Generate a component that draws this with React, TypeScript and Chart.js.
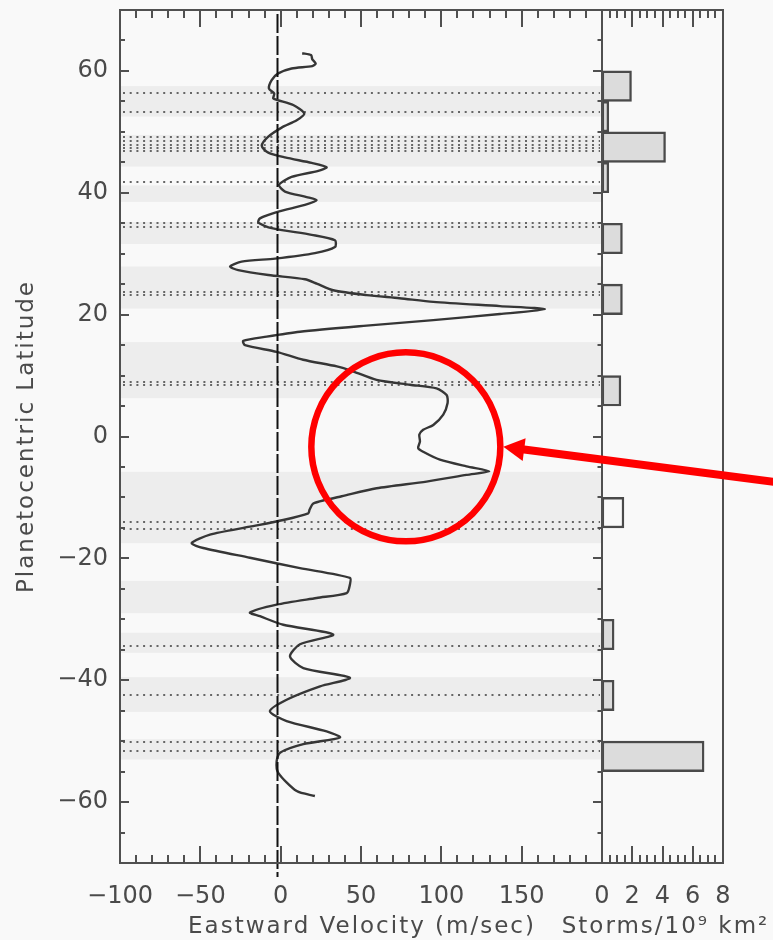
import { useEffect, useRef } from "react";
import { Chart, registerables } from "chart.js";

Chart.register(...registerables);

// Zonal wind profile: planetocentric latitude (deg) and eastward velocity (m/s)
const windLat = [
  62.9, 62.6, 61.9, 61.2, 60.8, 60.4, 59.6, 58.5, 57.1, 56.3, 55.5, 55.2, 54.4, 53.0, 51.9, 50.7,
  49.2, 47.7, 46.6, 45.8, 44.9, 44.2, 43.6, 42.6, 41.3, 40.2, 39.3, 38.8, 38.0, 36.9, 35.8, 35.1,
  34.2, 33.1, 32.2, 31.1, 30.1, 29.2, 28.7, 27.9, 27.3, 26.5, 25.8, 25.1, 24.0, 23.2, 22.7, 22.1,
  21.4, 20.9, 20.1, 19.1, 18.2, 17.2, 16.4, 15.7, 15.0, 13.9, 12.6, 11.5, 10.7, 9.3, 8.5, 7.9,
  6.8, 5.5, 3.6, 1.9, 1.1, 0.3, -0.8, -1.9, -2.5, -3.8, -4.9, -5.7, -6.3, -7.4, -8.5, -9.8,
  -10.4, -11.0, -12.0, -12.6, -13.7, -14.8, -16.1, -17.5, -18.3, -19.9, -21.6, -23.2, -24.3, -25.7, -26.5, -27.6,
  -28.9, -29.5, -30.9, -32.5, -34.1, -36.1, -38.0, -39.6, -41.0, -43.2, -45.1, -46.7, -48.4, -49.4, -50.5, -51.9,
  -53.3, -55.2, -58.2, -59.0,
];
const windSpeed = [
  13.4, 18.9, 19.7, 21.8, 19.7, 6.8, -1.5, -5.6, -7.3, -4.0, -4.6, -1.9, 7.8, 14.7, 10.0, 0.6,
  -7.7, -11.8, -7.7, 2.7, 19.3, 28.6, 23.4, 6.8, -1.0, 2.7, 16.2, 22.4, 15.1, -1.5, -12.9, -13.9,
  -5.6, 19.3, 33.8, 33.8, 21.3, -3.5, -24.3, -31.5, -26.4, -7.7, 15.1, 22.4, 32.7, 53.5, 74, 95,
  136.5, 164.5, 136.5, 95, 53.5, 12, -8.7, -23.3, -22.2, -2.5, 14, 35, 45, 59.7, 80.5, 97,
  103.3, 103.9, 101.2, 95, 88.7, 86.3, 86.7, 85.6, 88.7, 99.1, 115.7, 129.8, 115.7, 90.8, 59.7, 38,
  28, 20.3, 18, 17.2, 1.6, -19.1, -44, -55.4, -48.2, -19.1, 12, 43.1, 43.1, 41.1, 22.4, -2.5,
  -19.1, -12.9, 1.6, 32.7, 12, 5.8, 14.1, 43.1, 24.5, 3.7, -6.7, 3.7, 28.6, 36.9, 14.1, -0.4,
  -2.5, -1.5, 10, 21.3,
];

// Storm counts per 5-degree latitude bin (bin centre, storms per 10^9 km^2)
const stormLat = [57.5, 52.5, 47.5, 42.5, 32.5, 22.5, 7.5, -12.5, -32.5, -42.5, -52.5];
const stormRate = [1.95, 0.45, 4.2, 0.45, 1.35, 1.35, 1.25, 1.45, 0.8, 0.8, 6.75];
const stormHollow = [false, false, false, false, false, false, false, true, false, false, false];

// Belt latitude ranges (north edge, south edge)
const beltNorth = [57.5, 49.5, 41.2, 35.2, 27.9, 15.5, -5.8, -23.7, -32.2, -39.5, -49.7];
const beltSouth = [52.5, 44.3, 38.5, 31.6, 21.0, 6.3, -17.5, -29.0, -35.5, -45.2, -53.0];

// Latitudes of the jet / storm reference lines
const markerLats = [
  56.3, 53.3, 49.1, 48.5, 47.9, 47.3, 46.8, 41.8, 35.0, 34.4, 23.7, 23.2, 8.9, 8.5,
  -14.0, -15.1, -34.4, -42.5, -50.1, -51.6,
];

const velocityTicks = [-100, -50, 0, 50, 100, 150];
const stormTicks = [0, 2, 4, 6, 8];
const latTicks = [-60, -40, -20, 0, 20, 40, 60];

const binWidth = 5;
const referenceVelocity = -2.5;
const highlightVelocity = 77.9;
const highlightLat = -1.7;

const BG = "#f9f9f9";
const INK = "#4a4a4a";
const FONT = "'DejaVu Sans', 'Noto Sans', sans-serif";

const fmt = (v: number) => (v < 0 ? "\u2212" + Math.abs(v) : String(v));

function line(ctx: CanvasRenderingContext2D, x1: number, y1: number, x2: number, y2: number) {
  ctx.beginPath();
  ctx.moveTo(x1, y1);
  ctx.lineTo(x2, y2);
  ctx.stroke();
}

const decorations = {
  id: "decorations",
  beforeDraw(chart: any) {
    const { ctx, width, height } = chart;
    ctx.save();
    ctx.fillStyle = BG;
    ctx.fillRect(0, 0, width, height);
    ctx.restore();
  },
  beforeDatasetsDraw(chart: any) {
    const { ctx } = chart;
    const { x, y } = chart.scales;
    ctx.save();
    ctx.fillStyle = "#ededed";
    beltNorth.forEach((n: number, i: number) => {
      const y1 = y.getPixelForValue(n);
      const y2 = y.getPixelForValue(beltSouth[i]);
      ctx.fillRect(x.left, y1, x.right - x.left, y2 - y1);
    });
    ctx.strokeStyle = "#666";
    ctx.lineWidth = 2;
    ctx.setLineDash([2, 4.7]);
    for (const lat of markerLats) {
      const py = Math.round(y.getPixelForValue(lat));
      line(ctx, x.left + 3, py, x.right - 2, py);
    }
    ctx.restore();
  },
  afterDatasetsDraw(chart: any) {
    const { ctx } = chart;
    const { x, y } = chart.scales;
    ctx.save();
    const px = Math.round(x.getPixelForValue(referenceVelocity)) + 0.5;
    ctx.strokeStyle = "#111";
    ctx.lineWidth = 2;
    ctx.setLineDash([19, 3]);
    line(ctx, px, y.top + 4, px, y.bottom + 14);
    ctx.restore();
  },
  afterDraw(chart: any) {
    const { ctx } = chart;
    const { x, x2, y } = chart.scales;
    const top = y.top;
    const bottom = y.bottom;
    ctx.save();
    ctx.strokeStyle = "#505050";
    ctx.lineWidth = 2;
    ctx.strokeRect(x.left, top, x.right - x.left, bottom - top);
    ctx.strokeRect(x2.left, top, x2.right - x2.left, bottom - top);

    // velocity ticks, bottom and top
    for (let v = -90; v < 200; v += 10) {
      const px = Math.round(x.getPixelForValue(v));
      const len = v % 50 === 0 ? 17 : 8;
      line(ctx, px, bottom, px, bottom - len);
      line(ctx, px, top, px, top + len);
    }
    // storm-rate ticks, bottom and top
    for (let s = 0.5; s < 8; s += 0.5) {
      const px = Math.round(x2.getPixelForValue(s));
      const len = s % 2 === 0 ? 17 : 8;
      line(ctx, px, bottom, px, bottom - len);
      line(ctx, px, top, px, top + len);
    }
    // latitude ticks on the left axis and on the storm panel's edge
    for (let lat = -65; lat <= 65; lat += 5) {
      const py = Math.round(y.getPixelForValue(lat));
      const major = lat % 20 === 0;
      line(ctx, x.left, py, x.left + (major ? 9 : 5), py);
      line(ctx, x2.left, py, x2.left - (major ? 9 : 4.5), py);
    }

    // axis titles
    ctx.fillStyle = INK;
    ctx.font = `23px ${FONT}`;
    (ctx as any).letterSpacing = "2px";
    ctx.textAlign = "center";
    ctx.textBaseline = "alphabetic";
    ctx.fillText("Eastward Velocity (m/sec)", (x.left + x.right) / 2 + 1, 933);
    ctx.fillText("Storms/10\u2079 km\u00b2", (x2.left + x2.right) / 2 + 3, 933);
    ctx.save();
    ctx.translate(33, (top + bottom) / 2);
    ctx.rotate(-Math.PI / 2);
    ctx.fillText("Planetocentric Latitude", 0, 0);
    ctx.restore();
    (ctx as any).letterSpacing = "0px";

    // highlighted equatorial jet
    const cx = x.getPixelForValue(highlightVelocity);
    const cy = y.getPixelForValue(highlightLat);
    const r = 94.5;
    ctx.strokeStyle = "#ff0000";
    ctx.fillStyle = "#ff0000";
    ctx.lineWidth = 6.5;
    ctx.beginPath();
    ctx.arc(cx, cy, r, 0, Math.PI * 2);
    ctx.stroke();

    const tipX = cx + r + 3;
    const tipY = cy;
    const ang = Math.atan2(35, 270);
    const dx = Math.cos(ang);
    const dy = Math.sin(ang);
    const headLen = 21;
    const headHalf = 11.5;
    const bx = tipX + dx * headLen;
    const by = tipY + dy * headLen;
    ctx.lineWidth = 8;
    line(ctx, bx - dx * 2, by - dy * 2, tipX + dx * 400, tipY + dy * 400);
    ctx.beginPath();
    ctx.moveTo(tipX, tipY);
    ctx.lineTo(bx - dy * headHalf, by + dx * headHalf);
    ctx.lineTo(bx + dy * headHalf, by - dx * headHalf);
    ctx.closePath();
    ctx.fill();
    ctx.restore();
  },
};

export default function App() {
  const ref = useRef<HTMLCanvasElement | null>(null);

  useEffect(() => {
    document.body.style.margin = "0";
    document.body.style.background = BG;
    const canvas = ref.current;
    if (!canvas) return;

    const tickFont = { family: FONT, size: 24 };
    const chart = new Chart(canvas, {
      type: "scatter",
      data: {
        datasets: [
          {
            type: "scatter",
            label: "Eastward velocity",
            data: windLat.map((lat, i) => ({ x: windSpeed[i], y: lat })),
            showLine: true,
            borderColor: "#363636",
            borderWidth: 2.4,
            pointRadius: 0,
            tension: 0.25,
            xAxisID: "x",
            yAxisID: "y",
          } as any,
          {
            type: "bar",
            label: "Storms",
            indexAxis: "y",
            grouped: false,
            data: stormLat.map((lat, i) => ({ x: stormRate[i], y: lat })),
            xAxisID: "x2",
            yAxisID: "y",
            backgroundColor: stormHollow.map((h) => (h ? BG : "#dcdcdc")),
            borderColor: "#4a4a4a",
            borderWidth: 2.4,
            borderSkipped: false,
            barPercentage: 1,
            categoryPercentage: 1,
            // each bar covers one latitude bin
            barThickness: (c: any) => {
              const ys = c.chart.scales.y;
              return Math.abs(ys.getPixelForValue(0) - ys.getPixelForValue(binWidth));
            },
          } as any,
        ],
      },
      options: {
        responsive: false,
        animation: false,
        events: [],
        layout: { padding: { top: 10, right: 50, left: 0, bottom: 0 } },
        plugins: { legend: { display: false }, tooltip: { enabled: false } },
        scales: {
          x: {
            type: "linear",
            axis: "x",
            position: "bottom",
            stack: "bottomRow",
            stackWeight: 482,
            min: -100,
            max: 200,
            offset: false,
            grid: { display: false, drawTicks: false },
            border: { display: false },
            ticks: {
              font: tickFont,
              color: INK,
              padding: 19,
              maxRotation: 0,
              autoSkip: false,
              callback: (v: any) => fmt(Number(v)),
            },
            afterBuildTicks: (s: any) => {
              s.ticks = velocityTicks.map((value) => ({ value }));
            },
            afterFit: (s: any) => {
              s.height = 77;
              s.paddingLeft = 0;
              s.paddingRight = 0;
            },
          },
          x2: {
            type: "linear",
            axis: "x",
            position: "bottom",
            stack: "bottomRow",
            stackWeight: 121,
            min: 0,
            max: 8,
            offset: false,
            grid: { display: false, drawTicks: false },
            border: { display: false },
            ticks: {
              font: tickFont,
              color: INK,
              padding: 19,
              maxRotation: 0,
              autoSkip: false,
              callback: (v: any) => fmt(Number(v)),
            },
            afterBuildTicks: (s: any) => {
              s.ticks = stormTicks.map((value) => ({ value }));
            },
            afterFit: (s: any) => {
              s.height = 77;
              s.paddingLeft = 0;
              s.paddingRight = 0;
            },
          },
          y: {
            type: "linear",
            axis: "y",
            position: "left",
            min: -70,
            max: 70,
            offset: false,
            grid: { display: false, drawTicks: false },
            border: { display: false },
            ticks: {
              font: tickFont,
              color: INK,
              padding: 12,
              autoSkip: false,
              callback: (v: any) => fmt(Number(v)),
            },
            afterBuildTicks: (s: any) => {
              s.ticks = latTicks.map((value) => ({ value }));
            },
            afterFit: (s: any) => {
              s.width = 120;
              s.paddingTop = 0;
              s.paddingBottom = 0;
            },
          },
        },
      } as any,
      plugins: [decorations],
    });

    return () => chart.destroy();
  }, []);

  return (
    <canvas
      ref={ref}
      width={773}
      height={940}
      style={{ display: "block", width: 773, height: 940 }}
    />
  );
}
